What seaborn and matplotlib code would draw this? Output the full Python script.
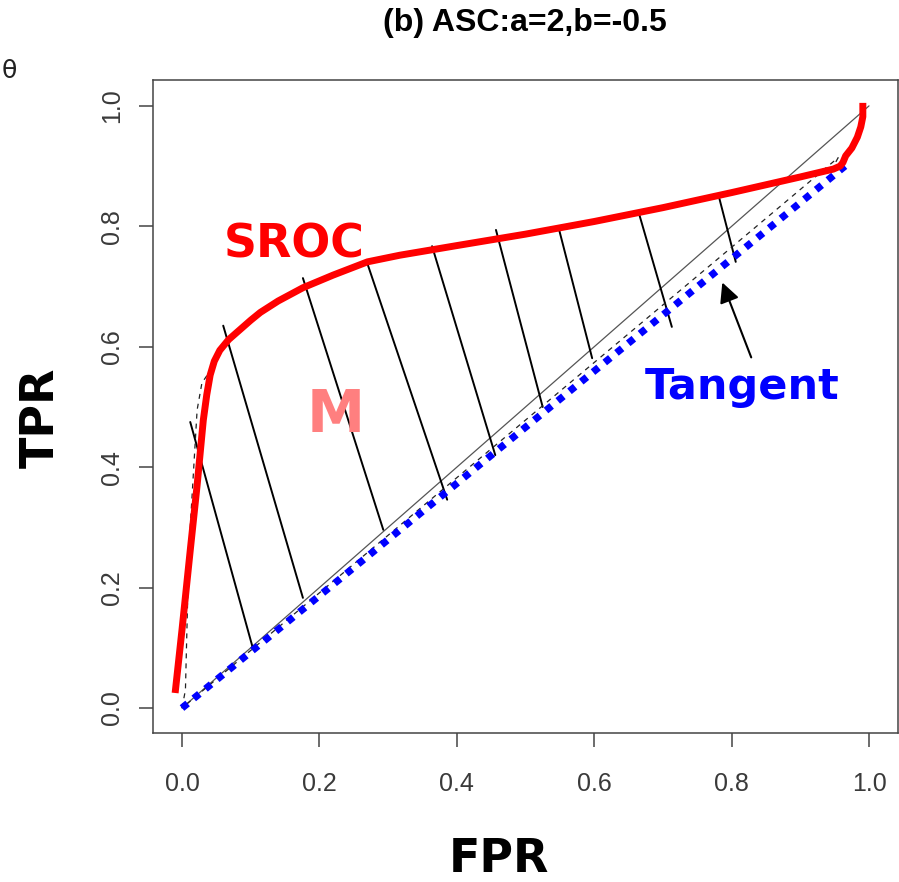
import matplotlib
matplotlib.use('Agg')
import matplotlib.pyplot as plt
import seaborn as sns
import pandas as pd
import numpy as np

# SROC curve (red, thick)
sroc_fpr = [-0.010, 0.000, 0.012, 0.022, 0.031, 0.036, 0.041, 0.047, 0.055, 0.068,
            0.084, 0.100, 0.114, 0.140, 0.176, 0.220, 0.270, 0.317, 0.400, 0.500,
            0.600, 0.700, 0.800, 0.900, 0.948, 0.958, 0.962, 0.966, 0.975, 0.983,
            0.988, 0.991, 0.991]
sroc_tpr = [0.025, 0.130, 0.262, 0.370, 0.478, 0.520, 0.553, 0.576, 0.594, 0.612,
            0.628, 0.644, 0.657, 0.676, 0.698, 0.719, 0.741, 0.752, 0.768, 0.787,
            0.808, 0.831, 0.856, 0.882, 0.895, 0.900, 0.906, 0.917, 0.930, 0.948,
            0.965, 0.982, 1.005]

# empirical polygon (thin dashed)
emp_fpr = [0.0, 0.005, 0.010, 0.022, 0.029, 0.041, 0.055, 0.084, 0.114, 0.176, 0.270,
           0.317, 0.400, 0.500, 0.600, 0.700, 0.800, 0.900, 0.948, 0.955, 0.780, 0.0]
emp_tpr = [0.0, 0.030, 0.262, 0.495, 0.540, 0.560, 0.598, 0.632, 0.661, 0.701, 0.737,
           0.755, 0.771, 0.790, 0.811, 0.834, 0.859, 0.885, 0.899, 0.914, 0.746, 0.0]

# tangent line (blue dotted) and chance diagonal
tangent_fpr = [0.0, 0.965]
tangent_tpr = [0.0, 0.900]
diag_fpr = [0.0, 1.0]
diag_tpr = [0.0, 1.0]

# hatch segments between SROC and tangent
hatch_top_fpr = [0.012, 0.060, 0.176, 0.269, 0.364, 0.457, 0.549, 0.665, 0.782]
hatch_top_tpr = [0.475, 0.635, 0.714, 0.741, 0.767, 0.794, 0.794, 0.822, 0.847]
hatch_bot_fpr = [0.103, 0.176, 0.293, 0.386, 0.456, 0.525, 0.597, 0.713, 0.806]
hatch_bot_tpr = [0.100, 0.183, 0.296, 0.346, 0.420, 0.500, 0.581, 0.633, 0.741]

ticks = [0.0, 0.2, 0.4, 0.6, 0.8, 1.0]
tick_labels = ['0.0', '0.2', '0.4', '0.6', '0.8', '1.0']

sns.set_style('white')
plt.rcParams['font.family'] = ['DejaVu Sans']
plt.rcParams['text.color'] = 'black'

fig = plt.figure(figsize=(8.99, 8.82), dpi=100)
ax = fig.add_axes([0.1702, 0.1689, 0.8287, 0.7404])

sroc = pd.DataFrame({'FPR': sroc_fpr, 'TPR': sroc_tpr})
emp = pd.DataFrame({'FPR': emp_fpr, 'TPR': emp_tpr})

# diagonal
sns.lineplot(x=diag_fpr, y=diag_tpr, ax=ax, color='#555555', lw=0.9, sort=False)

# hatch lines
for x0, y0, x1, y1 in zip(hatch_top_fpr, hatch_top_tpr, hatch_bot_fpr, hatch_bot_tpr):
    ax.plot([x0, x1], [y0, y1], color='black', lw=1.4)

# empirical dashed polygon
sns.lineplot(data=emp, x='FPR', y='TPR', ax=ax, color='#222222', lw=0.9,
             sort=False, estimator=None, linestyle=(0, (4, 4)))

# tangent
ax.plot(tangent_fpr, tangent_tpr, color='#0000ff', lw=5.2,
        linestyle=(0, (1, 1.1)), dash_capstyle='butt')

# SROC
sns.lineplot(data=sroc, x='FPR', y='TPR', ax=ax, color='#ff0000', lw=5,
             sort=False, estimator=None, solid_joinstyle='round', solid_capstyle='butt')

ax.annotate('', xy=(0.785, 0.711), xytext=(0.830, 0.578),
            arrowprops=dict(arrowstyle='-|>', color='black', lw=1.5, mutation_scale=30))

ax.text(0.163, 0.749, 'SROC', color='#ff0000', fontsize=33, fontweight='bold',
        ha='center', va='baseline')
ax.text(0.2235, 0.458, 'M', color='#ff7f7f', fontsize=42, fontweight='bold',
        ha='center', va='baseline')
ax.text(0.815, 0.513, 'Tangent', color='#0000ff', fontsize=31, fontweight='bold',
        ha='center', va='baseline')

ax.set_xlim(-0.0422, 1.0422)
ax.set_ylim(-0.0415, 1.043)
ax.set_xticks(ticks)
ax.set_xticklabels(tick_labels)
ax.set_yticks(ticks)
ax.set_yticklabels(tick_labels, rotation=90, va='center')
ax.set_xlabel('')
ax.set_ylabel('')

for lab in ax.get_xticklabels() + ax.get_yticklabels():
    lab.set_family('Liberation Sans')
    lab.set_fontsize(18)
    lab.set_color('#3a3a3a')

ax.tick_params(axis='x', direction='out', length=10, width=1.1, color='#444444', pad=18, bottom=True)
ax.tick_params(axis='y', direction='out', length=10, width=1.1, color='#444444', pad=11, left=True)
for sp in ax.spines.values():
    sp.set_color('#444444')
    sp.set_linewidth(1.1)

fig.text(525 / 899, 1 - 23 / 882, '(b) ASC:a=2,b=-0.5', family='Liberation Sans',
         fontsize=23, fontweight='bold', ha='center', va='center', color='black')
fig.text(499 / 899, 1 - 859 / 882, 'FPR', fontsize=33, fontweight='bold',
         ha='center', va='center', color='black')
fig.text(41 / 899, 1 - 418 / 882, 'TPR', fontsize=33, fontweight='bold',
         ha='center', va='center', rotation=90, color='black')
# small glyph left over at the top-left corner
fig.text(9 / 899, 1 - 71 / 882, 'θ', fontsize=18, color='#222222',
         ha='center', va='center')

fig.savefig('out.png', dpi=100, facecolor='white')
